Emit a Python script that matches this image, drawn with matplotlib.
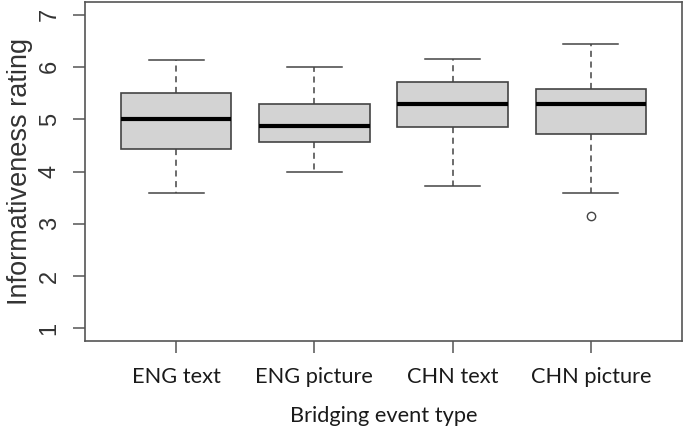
import matplotlib
matplotlib.use("Agg")
import matplotlib.pyplot as plt

categories = ["ENG text", "ENG picture", "CHN text", "CHN picture"]
whisker_low = [3.58, 4.00, 3.72, 3.58]
q1 = [4.43, 4.57, 4.86, 4.72]
median = [5.00, 4.87, 5.29, 5.29]
q3 = [5.50, 5.29, 5.72, 5.58]
whisker_high = [6.14, 6.00, 6.15, 6.43]
outliers = [[], [], [], [3.14]]
y_ticks = [1, 2, 3, 4, 5, 6, 7]

stats = []
for i, c in enumerate(categories):
    stats.append(dict(label=c, whislo=whisker_low[i], q1=q1[i], med=median[i],
                      q3=q3[i], whishi=whisker_high[i], fliers=outliers[i]))

fig = plt.figure(figsize=(6.85, 4.29), dpi=100)
ax = fig.add_axes([85/685, 1-341/429, (682-85)/685, (341-2)/429])

edge = "#444444"
ax.bxp(stats, positions=[1, 2, 3, 4], widths=0.8, patch_artist=True,
       boxprops=dict(facecolor="#d3d3d3", edgecolor=edge, linewidth=1.2),
       medianprops=dict(color="black", linewidth=3, solid_capstyle="butt"),
       whiskerprops=dict(color=edge, linewidth=1.1, linestyle=(0, (4, 3))),
       capprops=dict(color=edge, linewidth=1.1),
       capwidths=0.4,
       flierprops=dict(marker="o", markersize=6, markerfacecolor="none",
                       markeredgecolor=edge, markeredgewidth=1.0))

ax.set_xlim(0.34, 4.66)
ax.set_ylim(0.76, 7.24)
ax.set_yticks(y_ticks)
ax.set_yticklabels([str(t) for t in y_ticks], rotation=90, va="center",
                   fontsize=17, family=["Liberation Sans"], color="#333333")
ax.set_xticks([1, 2, 3, 4])
ax.set_xticklabels(categories, fontsize=15.7, family=["Lato"], color="#1a1a1a")
for s in ax.spines.values():
    s.set_color("#555555")
    s.set_linewidth(1.2)
ax.tick_params(axis="both", color="#555555", width=1.1, length=8.5)
ax.tick_params(axis="x", pad=10)
ax.tick_params(axis="y", pad=9)

ax.set_ylabel("Informativeness rating", fontsize=19.5, family=["Liberation Sans"],
              color="#333333", labelpad=4)
ax.set_xlabel("Bridging event type", fontsize=15.7, family=["Lato"],
              color="#1a1a1a", labelpad=14)

fig.savefig("out.png", dpi=100)
